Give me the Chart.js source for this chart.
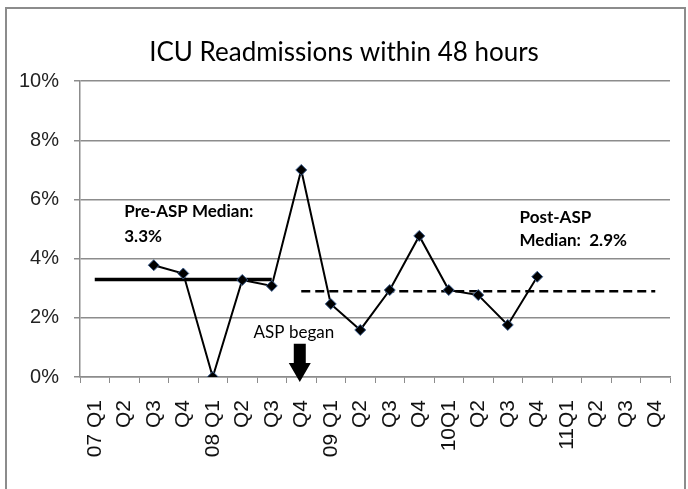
<!DOCTYPE html>
<html>
<head>
<meta charset="utf-8">
<script src="https://cdn.jsdelivr.net/npm/chart.js@4.4.0/dist/chart.umd.min.js"></script>
<style>
  html, body { margin: 0; padding: 0; background: #fff; }
  #wrap { position: relative; width: 688px; height: 489px; overflow: hidden; }
  #frame { position: absolute; left: 5px; top: 7px; width: 677px; height: 520px; border: 2px solid #8c8c8c; }
  canvas { position: absolute; left: 0; top: 0; }
</style>
</head>
<body>
<div id="wrap">
  <div id="frame"></div>
  <canvas id="readmitChart" width="688" height="489"></canvas>
</div>
<script>
// Trimestres (eje X)
const quarters = ['07 Q1', 'Q2', 'Q3', 'Q4', '08 Q1', 'Q2', 'Q3', 'Q4', '09 Q1', 'Q2', 'Q3', 'Q4',
                  '10Q1', 'Q2', 'Q3', 'Q4', '11Q1', 'Q2', 'Q3', 'Q4'];

// Readmisiones UCI en 48 h (%)
const readmitRate = [null, null, 3.78, 3.5, 0, 3.28, 3.08, 7.0, 2.47, 1.59, 2.94, 4.77,
                     2.94, 2.77, 1.76, 3.39, null, null, null, null];

// Medianas antes / despues del ASP
const preAspMedian = [3.3, 3.3, 3.3, 3.3, 3.3, 3.3, 3.3, null, null, null, null, null,
                      null, null, null, null, null, null, null, null];
const postAspMedian = [null, null, null, null, null, null, null, 2.9, 2.9, 2.9, 2.9, 2.9,
                       2.9, 2.9, 2.9, 2.9, 2.9, 2.9, 2.9, 2.9];

// Eje Y
const yTicks = [0, 2, 4, 6, 8, 10];

// Notas sobre el grafico (en unidades de datos: indice de trimestre, %)
const notes = [
    { lines: ['Pre-ASP Median:', '3.3%'], x: 1, y: [5.6, 4.75], bold: true, align: 'left' },
    { lines: ['Post-ASP', 'Median:  2.9%'], x: 14.4, y: [5.4, 4.6], bold: true, align: 'left' },
    { lines: ['ASP began'], x: 6.75, y: [1.52], bold: false, align: 'center' }
];

const annotationsPlugin = {
    id: 'aspNotes',
    afterDatasetsDraw(chart) {
        const { ctx, scales: { x, y } } = chart;
        ctx.save();
        ctx.fillStyle = '#000';
        ctx.textBaseline = 'middle';
        notes.forEach(n => {
            ctx.font = (n.bold ? 'bold ' : '') + '17px Lato';
            ctx.textAlign = n.align;
            n.lines.forEach((t, i) => ctx.fillText(t, x.getPixelForValue(n.x), y.getPixelForValue(n.y[i])));
        });

        // Flecha "ASP began"
        const ax = x.getPixelForValue(6.95);
        const top = y.getPixelForValue(1.12);
        const neck = y.getPixelForValue(0.47);
        const tip = y.getPixelForValue(-0.17);
        ctx.beginPath();
        ctx.moveTo(ax - 6, top);
        ctx.lineTo(ax + 6, top);
        ctx.lineTo(ax + 6, neck);
        ctx.lineTo(ax + 11, neck);
        ctx.lineTo(ax, tip);
        ctx.lineTo(ax - 11, neck);
        ctx.lineTo(ax - 6, neck);
        ctx.closePath();
        ctx.fill();
        ctx.restore();
    }
};

new Chart(document.getElementById('readmitChart'), {
    type: 'line',
    data: {
        labels: quarters,
        datasets: [
            {
                label: 'Readmissions',
                data: readmitRate,
                borderColor: '#000',
                borderWidth: 2,
                tension: 0,
                pointStyle: 'rectRot',
                pointRadius: 5.5,
                pointBackgroundColor: '#000',
                pointBorderColor: '#3d5f8f',
                pointBorderWidth: 1
            },
            {
                label: 'Pre-ASP Median',
                data: preAspMedian,
                borderColor: '#000',
                borderWidth: 3.5,
                pointRadius: 0
            },
            {
                label: 'Post-ASP Median',
                data: postAspMedian,
                borderColor: '#000',
                borderWidth: 2.5,
                borderDash: [9, 5],
                pointRadius: 0
            }
        ]
    },
    options: {
        responsive: false,
        animation: false,
        layout: { padding: 0 },
        scales: {
            x: {
                offset: true,
                grid: { offset: true, drawOnChartArea: false, tickLength: 6, color: '#8c8c8c', lineWidth: 1 },
                border: { color: '#8c8c8c', width: 1.5 },
                ticks: {
                    autoSkip: false,
                    minRotation: 90,
                    maxRotation: 90,
                    padding: 17,
                    color: '#111',
                    font: { family: "'Liberation Sans', Arial", size: 21 }
                },
                afterFit(scale) {
                    // margen derecho fijo, sin depender de las etiquetas rotadas
                    scale.height = 112;
                    scale.paddingLeft = 0;
                    scale.paddingRight = 18;
                }
            },
            y: {
                min: 0,
                max: 10,
                afterBuildTicks(scale) { scale.ticks = yTicks.map(v => ({ value: v })); },
                grid: { color: '#8c8c8c', lineWidth: 1.5, tickLength: 6 },
                border: { color: '#8c8c8c', width: 1.5 },
                ticks: {
                    padding: 15,
                    color: '#222',
                    font: { family: "'Liberation Sans', Arial", size: 20 },
                    callback: v => v + '%'
                },
                afterFit(scale) { scale.width = 80; }
            }
        },
        plugins: {
            legend: { display: false },
            tooltip: { enabled: false },
            title: {
                display: true,
                text: 'ICU Readmissions within 48 hours',
                color: '#000',
                font: { family: 'Lato', size: 26, weight: 'normal' },
                padding: { top: 37, bottom: 13 }
            }
        }
    },
    plugins: [annotationsPlugin]
});
</script>
</body>
</html>
